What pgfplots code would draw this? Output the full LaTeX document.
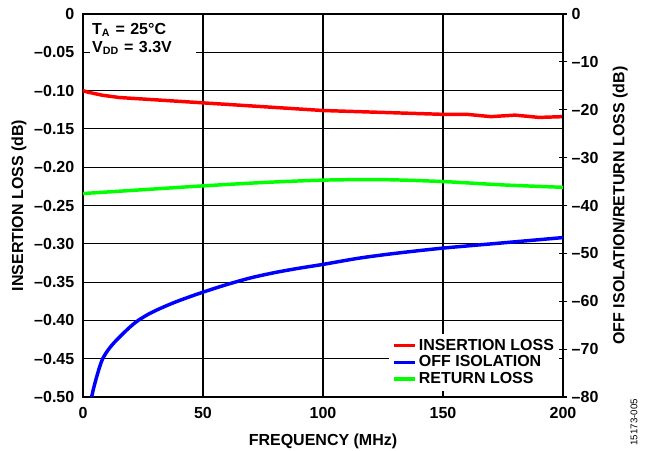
\documentclass[border=0pt]{standalone}
\usepackage{pgfplots}
\pgfplotsset{compat=1.18}
\usepackage{fontspec}
\setmainfont{Liberation Sans}
\definecolor{cred}{RGB}{255,0,0}
\definecolor{cblue}{RGB}{0,0,255}
\definecolor{cgreen}{RGB}{0,255,0}
\newcommand{\lblfont}{\bfseries\fontsize{12}{13}\selectfont}
\begin{document}
\begin{tikzpicture}
\begin{axis}[
  at={(0pt,0pt)}, anchor=south west,
  scale only axis, width=360pt, height=287.25pt,
  xmin=0, xmax=200, ymin=-0.5, ymax=0,
  xtick={0,50,100,150,200},
  ytick={-0.5,-0.45,-0.4,-0.35,-0.3,-0.25,-0.2,-0.15,-0.1,-0.05,0},
  yticklabels={--0.50,--0.45,--0.40,--0.35,--0.30,--0.25,--0.20,--0.15,--0.10,--0.05,0},
  xticklabels={0,50,100,150,200},
  ytick pos=left, xtick pos=bottom,
  major tick length=0pt,
  grid=major,
  grid style={black, line width=0.8pt},
  axis line style={black, line width=1.4pt},
  tick label style={font=\lblfont},
  yticklabel style={xshift=-3pt},
  xticklabel style={yshift=-4pt},
  label style={font=\lblfont},
  xlabel={FREQUENCY (MHz)},
  ylabel={INSERTION LOSS (dB)},
  xlabel style={yshift=-5pt},
  ylabel style={yshift=-1pt},
]
\addplot[cred, line width=2.6pt] coordinates {
(0,-0.100) (2,-0.102) (5,-0.104) (8,-0.106) (15,-0.109) (20,-0.110)
(30,-0.112) (40,-0.114) (50,-0.116) (60,-0.118) (70,-0.120) (80,-0.122)
(90,-0.124) (100,-0.126) (110,-0.127) (120,-0.128) (130,-0.129) (140,-0.130)
(150,-0.131) (160,-0.131) (170,-0.134) (180,-0.132) (190,-0.135) (200,-0.134)
};
\node[fill=white, anchor=north west, align=left, inner sep=2pt, font=\bfseries\fontsize{12}{13.5}\selectfont, text width=76pt]
  at (rel axis cs:0.013,0.984) {T\textsubscript{A} = 25°C\\V\textsubscript{DD} = 3.3V};
\end{axis}
\begin{axis}[
  at={(0pt,0pt)}, anchor=south west,
  scale only axis, width=360pt, height=287.25pt,
  xmin=0, xmax=200, ymin=-80, ymax=0,
  clip=false,
  axis x line=none,
  axis y line*=right,
  ytick={-80,-70,-60,-50,-40,-30,-20,-10,0},
  yticklabels={--80,--70,--60,--50,--40,--30,--20,--10,0},
  major tick length=6pt, tick align=center,
  tick style={black, line width=0.8pt},
  axis line style={black, line width=1.4pt},
  tick label style={font=\lblfont},
  label style={font=\lblfont},
  ylabel={OFF ISOLATION/RETURN LOSS (dB)},
  ylabel style={yshift=-4pt},
  legend style={at={(rel axis cs:0.993,0.015)}, anchor=south east, draw=none, fill=white,
    font=\lblfont, row sep=-1.3pt, inner sep=2pt},
  legend cell align=left,
  legend image code/.code={\draw[#1] (0cm,0cm) -- (0.55cm,0cm);},
]
\addlegendimage{cred, line width=2.6pt}
\addlegendentry{INSERTION LOSS}
\addplot[cblue, line width=2.6pt, smooth] coordinates {
(3.6,-80) (4.5,-78) (5.7,-75.8) (7,-73.6) (8.2,-72) (10,-70.5) (12,-69.2) (14,-68.1)
(17,-66.6) (20,-65.2) (23,-64) (28,-62.5) (34,-61.1) (40.4,-59.8) (50,-58.1)
(60,-56.5) (70,-55.1) (80,-54.0) (90,-53.1) (100,-52.3) (115,-51.0) (130,-50.0)
(150,-48.9) (175,-47.8) (200,-46.7)
};
\addlegendentry{OFF ISOLATION}
\addplot[cgreen, line width=2.6pt, smooth] coordinates {
(0,-37.5) (25,-36.7) (50,-35.9) (75,-35.2) (100,-34.7) (125,-34.6) (150,-35.0)
(175,-35.7) (200,-36.2)
};
\addlegendentry{RETURN LOSS}
\node[rotate=90, font=\fontsize{7.3}{8}\selectfont] at (rel axis cs:1.148,-0.066) {15173-005};
\end{axis}
\pgfresetboundingbox
\path (-62.25pt,-39.75pt) rectangle (422.25pt,297.75pt);
\end{tikzpicture}
\end{document}
